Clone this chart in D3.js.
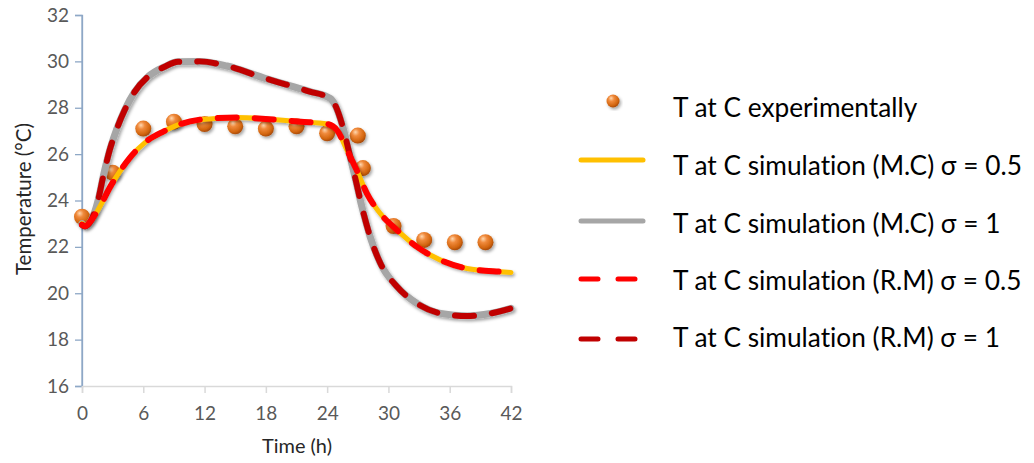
<!DOCTYPE html>
<html><head><meta charset="utf-8">
<script src="https://cdn.jsdelivr.net/npm/d3@7"></script>
<style>
html,body{margin:0;padding:0;background:#fff;}
svg{display:block;font-family:Lato,"Open Sans",sans-serif;font-variant-ligatures:none;font-feature-settings:"liga" 0,"clig" 0;}
</style></head>
<body>
<svg id="chart" width="1034" height="463"></svg>
<script>
// ---- data ----
const xTicks = [0, 6, 12, 18, 24, 30, 36, 42];
const yTicks = [16, 18, 20, 22, 24, 26, 28, 30, 32];

const expTime = [0, 3, 6, 9, 12, 15, 18, 21, 24, 27, 27.5, 30.5, 33.5, 36.5, 39.5];
const expTemp = [23.3, 25.2, 27.1, 27.4, 27.3, 27.2, 27.1, 27.2, 26.9, 26.8, 25.4, 22.9, 22.3, 22.2, 22.2];

const mc05Time = [0, 0.3, 1, 1.7, 2.8, 3.7, 4.7, 6.3, 8, 9.6, 12.2, 15.2, 18.8, 21.4, 24, 24.97, 25.95, 26.9, 27.9, 29.2, 30.85, 32.8, 35.1, 37.7, 41, 42];
const mc05Temp = [23.0, 22.93, 23.2, 23.7, 24.62, 25.25, 25.85, 26.55, 26.98, 27.29, 27.51, 27.58, 27.49, 27.4, 27.3, 27.03, 26.17, 25.3, 24.3, 23.44, 22.72, 22.0, 21.43, 21.07, 20.93, 20.9];

const mc1Time = [0, 0.3, 0.9, 1.57, 2.06, 2.71, 3.36, 4.18, 5.16, 6.47, 8.1, 9.4, 11.5, 14.2, 17.7, 20, 22.3, 24.3, 24.8, 25.45, 26.1, 26.8, 27.4, 28.2, 29.2, 30.85, 32.8, 35.1, 37.7, 40, 42];
const mc1Temp = [23.0, 22.9, 23.15, 24.0, 25.0, 26.17, 27.03, 27.9, 28.69, 29.34, 29.77, 29.98, 30.0, 29.8, 29.3, 29.0, 28.7, 28.4, 28.1, 27.3, 26.17, 24.88, 23.73, 22.45, 21.3, 20.28, 19.56, 19.13, 19.02, 19.13, 19.35];

const rm05Time = [0, 0.3, 1, 1.7, 2.8, 3.7, 4.7, 6.3, 8, 9.6, 12.2, 15.2, 18.8, 21.4, 24, 24.97, 25.95, 26.9, 27.9, 29.2, 30.85, 32.8, 35.1, 37.7, 41, 42];
const rm05Temp = [22.95, 22.9, 23.2, 23.7, 24.62, 25.25, 25.85, 26.55, 26.98, 27.29, 27.52, 27.58, 27.49, 27.4, 27.3, 27.03, 26.17, 25.3, 24.3, 23.44, 22.72, 22.0, 21.43, 21.07, 20.93, 20.9];

const rm1Time = [0, 0.3, 0.9, 1.57, 2.06, 2.71, 3.36, 4.18, 5.16, 6.47, 8.1, 9.4, 11.5, 14.2, 17.7, 20, 22.3, 24.3, 24.8, 25.45, 26.1, 26.8, 27.4, 28.2, 29.2, 30.85, 32.8, 35.1, 37.7, 40, 42];
const rm1Temp = [22.95, 22.88, 23.15, 24.0, 25.0, 26.17, 27.03, 27.9, 28.69, 29.34, 29.77, 29.98, 30.0, 29.8, 29.3, 29.0, 28.7, 28.4, 28.1, 27.3, 26.17, 24.88, 23.73, 22.45, 21.3, 20.28, 19.56, 19.13, 19.02, 19.13, 19.35];

const legendLabels = [
  "T at C experimentally",
  "T at C simulation (M.C) σ = 0.5",
  "T at C simulation (M.C) σ = 1",
  "T at C simulation (R.M) σ = 0.5",
  "T at C simulation (R.M) σ = 1"
];

// ---- layout ----
const svg = d3.select("#chart");
const x = d3.scaleLinear().domain([0, 42]).range([82, 511]);
const y = d3.scaleLinear().domain([16, 32]).range([386, 15]);

const defs = svg.append("defs");
const sh = defs.append("filter").attr("id", "shadow").attr("x", "-10%").attr("y", "-10%").attr("width", "130%").attr("height", "130%");
sh.append("feDropShadow").attr("dx", 1.5).attr("dy", 2).attr("stdDeviation", 1.5).attr("flood-color", "#000").attr("flood-opacity", 0.35);

const grad = defs.append("radialGradient").attr("id", "ball").attr("cx", "40%").attr("cy", "35%").attr("r", "65%").attr("fx", "35%").attr("fy", "28%");
grad.append("stop").attr("offset", "0%").attr("stop-color", "#ffd8b0");
grad.append("stop").attr("offset", "35%").attr("stop-color", "#f08a3c");
grad.append("stop").attr("offset", "80%").attr("stop-color", "#d2650f");
grad.append("stop").attr("offset", "100%").attr("stop-color", "#a84b08");

// axes
const yAxis = d3.axisLeft(y).tickValues(yTicks).tickSize(7).tickPadding(6).tickFormat(d3.format("d"));
const gy = svg.append("g").attr("transform", `translate(${x(0)},0)`).call(yAxis);
gy.select(".domain").attr("stroke", "#8ea8c6").attr("stroke-width", 1.3);
gy.selectAll(".tick line").attr("stroke", "#8ea8c6").attr("stroke-width", 1.3);
gy.selectAll(".tick text").attr("fill", "#595959").style("font-size", "19px").style("font-family", "Lato");

const xAxis = d3.axisBottom(x).tickValues(xTicks).tickSize(7).tickPadding(14).tickFormat(d3.format("d"));
const gx = svg.append("g").attr("transform", `translate(0,${y(16)})`).call(xAxis);
gx.select(".domain").attr("stroke", "#d9d9d9").attr("stroke-width", 1.5);
gx.selectAll(".tick line").attr("stroke", "#d9d9d9").attr("stroke-width", 1.5);
gx.selectAll(".tick text").attr("fill", "#595959").style("font-size", "19px").style("font-family", "Lato");
svg.append("line").attr("x1", x(0)).attr("x2", x(0)).attr("y1", y(32)).attr("y2", y(16)).attr("stroke", "#8ea8c6").attr("stroke-width", 1.3);

function fit(sel, target) {
  let fs = parseFloat(sel.style("font-size"));
  const w = sel.node().getComputedTextLength();
  sel.style("font-size", (fs * target / w) + "px");
}

const xt = svg.append("text").attr("x", 297).attr("y", 453).attr("text-anchor", "middle")
  .attr("fill", "#262626").style("font-size", "18px").text("Time (h)");
fit(xt, 70);
const yt = svg.append("text").attr("transform", "translate(31,199) rotate(-90)").attr("text-anchor", "middle")
  .attr("fill", "#262626").style("font-size", "17px").text("Temperature (°C)");
fit(yt, 152);

// experimental points (behind lines)
const pts = expTime.map((t, i) => ({ t, v: expTemp[i] }));
svg.append("g").attr("filter", "url(#shadow)").selectAll("circle").data(pts).join("circle")
  .attr("cx", d => x(d.t)).attr("cy", d => y(d.v)).attr("r", 8).attr("fill", "url(#ball)");

const line = d3.line().x(d => x(d.t)).y(d => y(d.v)).curve(d3.curveMonotoneX);
const mk = (ts, vs) => ts.map((t, i) => ({ t, v: vs[i] }));

const series = [
  { data: mk(mc1Time, mc1Temp), color: "#a6a6a6", w: 7, dash: null, shadow: true },
  { data: mk(mc05Time, mc05Temp), color: "#ffc000", w: 5, dash: null, shadow: true },
  { data: mk(rm1Time, rm1Temp), color: "#c00000", w: 6, dash: "19 18", shadow: false },
  { data: mk(rm05Time, rm05Temp), color: "#ff0000", w: 6, dash: "19 18", shadow: false }
];
series.forEach(s => {
  const p = svg.append("path").datum(s.data).attr("d", line).attr("fill", "none")
    .attr("stroke", s.color).attr("stroke-width", s.w).attr("stroke-linecap", "round").attr("stroke-linejoin", "round");
  if (s.dash) p.attr("stroke-dasharray", s.dash);
  if (s.shadow) p.attr("filter", "url(#shadow)");
});

// legend
const lg = svg.append("g");
const markerY = [101, 160, 221, 279, 339];
const baseY = [117, 175, 233, 290, 347];
lg.append("circle").attr("cx", 613).attr("cy", markerY[0]).attr("r", 6.5).attr("fill", "url(#ball)").attr("filter", "url(#shadow)");
const legLines = [
  { color: "#ffc000", dash: null },
  { color: "#a6a6a6", dash: null },
  { color: "#ff0000", dash: "17 20" },
  { color: "#c00000", dash: "17 20" }
];
legLines.forEach((l, i) => {
  const ln = lg.append("line").attr("x1", 581).attr("x2", 643).attr("y1", markerY[i + 1]).attr("y2", markerY[i + 1])
    .attr("stroke", l.color).attr("stroke-width", 5).attr("stroke-linecap", "round");
  if (l.dash) ln.attr("stroke-dasharray", l.dash);
});
const texts = lg.selectAll("text.lab").data(legendLabels).join("text").attr("class", "lab")
  .attr("x", 673).attr("y", (d, i) => baseY[i]).attr("fill", "#000").style("font-size", "24px").text(d => d);
const longest = texts.filter((d, i) => i === 1);
const w1 = longest.node().getComputedTextLength();
const fs = 24 * 349 / w1;
texts.style("font-size", fs + "px");
</script>
</body></html>
